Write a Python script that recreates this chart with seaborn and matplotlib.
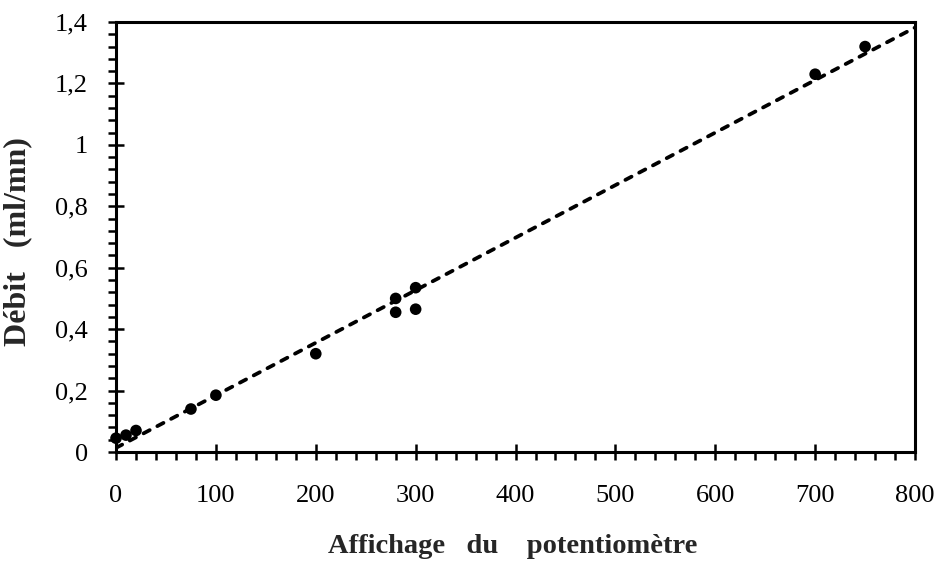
import matplotlib
matplotlib.use("Agg")
import matplotlib.pyplot as plt
import numpy as np
import pandas as pd
import seaborn as sns
from matplotlib.ticker import FixedLocator, MultipleLocator

# Calibration measurements: potentiometer setting vs. measured flow rate
potentiometre = [0, 10, 20, 75, 100, 200, 280, 280, 300, 300, 700, 750]
debit = [0.045, 0.055, 0.07, 0.14, 0.185, 0.32, 0.50, 0.455, 0.535, 0.465, 1.23, 1.32]

xtick_values = [0, 100, 200, 300, 400, 500, 600, 700, 800]
xtick_labels = ["0", "100", "200", "300", "400", "500", "600", "700", "800"]
ytick_values = [0, 0.2, 0.4, 0.6, 0.8, 1.0, 1.2, 1.4]
ytick_labels = ["0", "0,2", "0,4", "0,6", "0,8", "1", "1,2", "1,4"]

df = pd.DataFrame({"potentiometre": potentiometre, "debit": debit})

sns.set_style("ticks")
plt.rcParams["font.family"] = ["Liberation Serif", "DejaVu Serif"]
plt.rcParams["lines.scale_dashes"] = False

fig = plt.figure(figsize=(9.41, 5.67), dpi=100)
ax = fig.add_axes([0.1233, 0.2028, 0.8491, 0.7584])
ax.set_xlim(0, 800)
ax.set_ylim(0, 1.4)

# Points plus least-squares straight line across the whole axis range
sns.regplot(
    data=df, x="potentiometre", y="debit", ax=ax, ci=None, truncate=False,
    scatter_kws=dict(s=70, color="black", edgecolor="none", zorder=3,
                     clip_on=False, alpha=1),
    line_kws=dict(color="black", lw=2.7, linestyle=(0, (5, 6.2)),
                  dash_capstyle="round"),
)
ax.set_xlim(0, 800)
ax.set_ylim(0, 1.4)

ax.xaxis.set_major_locator(FixedLocator(xtick_values))
ax.set_xticklabels(xtick_labels)
ax.yaxis.set_major_locator(FixedLocator(ytick_values))
ax.set_yticklabels(ytick_labels)
ax.xaxis.set_minor_locator(MultipleLocator(20))
ax.yaxis.set_minor_locator(MultipleLocator(0.04))

ax.tick_params(which="major", direction="inout", length=11.5, width=1.8,
               color="black", labelsize=19, labelcolor="black")
ax.tick_params(which="minor", direction="out", length=6, width=1.8,
               color="black")
ax.tick_params(axis="x", which="major", pad=18)
ax.tick_params(axis="y", which="major", pad=14.5)

for spine in ax.spines.values():
    spine.set_visible(True)
    spine.set_linewidth(2.2)
    spine.set_color("black")

ax.set_xlabel("Affichage   du    potentiomètre", fontsize=20.5, fontweight="bold")
ax.set_ylabel("Débit   (ml/mn)", fontsize=23, fontweight="bold")
ax.xaxis.set_label_coords(0.497, -0.19)
ax.yaxis.set_label_coords(-0.105, 0.49)

fig.savefig("out.png", dpi=100, facecolor="white")
